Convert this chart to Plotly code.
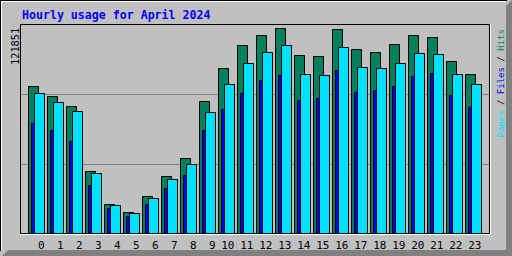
import plotly.graph_objects as go

# ---- data ----
hours = list(range(24))
hour_labels = [str(h) for h in hours]
hits = [87330, 81380, 75420, 36730, 17085, 12320, 22030, 33750, 44470, 78400,
        98050, 111740, 117870, 121851, 105960, 105190, 121500, 109360, 107570,
        112510, 117870, 116500, 102210, 94470]
files = [65300, 61320, 54590, 28400, 14700, 9940, 17090, 26610, 34350, 61140,
         73640, 83160, 90900, 93880, 79000, 80190, 96860, 83760, 84950, 87330,
         93280, 95070, 81970, 74830]
pages = [83160, 77810, 72450, 35540, 16490, 11730, 20660, 31970, 40900, 71850,
         88520, 101020, 107750, 111740, 94470, 93880, 110550, 98640, 98050,
         101020, 107150, 106380, 94470, 88520]
title = "Hourly usage for April 2024"
max_label = "121851"

# ---- style ----
W, H = 512, 256
L, R, T, B = 20, 22, 24, 22
PW, PH = W - L - R, H - T - B
BG = "#C0C0C0"
C_HITS, C_FILES, C_PAGES = "#00805C", "#0000FF", "#00E0FF"
UNIT = 19.0  # px per hour
xmin = -(29.3 - L) / UNIT
xmax = xmin + PW / UNIT
ymax_axis = max(hits) * 210 / 204.7


def px(p):
    return (p - L) / PW


def py(p):
    return (H - B - p) / PH


fig = go.Figure()
bw = 0.53
for vals, col, off, name in [(hits, C_HITS, 0.0, "Hits"),
                             (files, C_FILES, 0.142, "Files"),
                             (pages, C_PAGES, 0.316, "Pages")]:
    fig.add_trace(go.Bar(x=hours, y=vals, width=bw, offset=off, name=name,
                         marker=dict(color=col, line=dict(color="black", width=1))))

tickpos = [h + (12 / UNIT if h < 10 else 8.5 / UNIT) for h in hours]

fig.update_layout(
    width=W, height=H, margin=dict(l=L, r=R, t=T, b=B, pad=0, autoexpand=False),
    paper_bgcolor=BG, plot_bgcolor=BG, barmode="overlay", showlegend=False,
    bargap=0,
    xaxis=dict(range=[xmin, xmax], tickvals=tickpos, ticktext=hour_labels,
               showgrid=False, zeroline=False, ticks="", showline=False,
               automargin=False,
               tickfont=dict(family="DejaVu Sans Mono", size=11, color="black"),
               ticklabelstandoff=3),
    yaxis=dict(range=[0, ymax_axis], tickvals=[ymax_axis / 3, 2 * ymax_axis / 3],
               showticklabels=False, showgrid=True, gridcolor="#808080",
               automargin=False,
               gridwidth=1, zeroline=False, ticks="", showline=False),
)

shapes = []
# outer bevel
shapes.append(dict(type="path", xref="paper", yref="paper",
                   path=f"M {px(2)},{py(256)} L {px(8)},{py(250)} L {px(512)},{py(250)} L {px(512)},{py(256)} Z",
                   fillcolor="#808080", line=dict(width=0), layer="above"))
shapes.append(dict(type="path", xref="paper", yref="paper",
                   path=f"M {px(506)},{py(6)} L {px(512)},{py(0)} L {px(512)},{py(256)} L {px(506)},{py(250)} Z",
                   fillcolor="#808080", line=dict(width=0), layer="above"))
shapes.append(dict(type="line", xref="paper", yref="paper", x0=px(0), x1=px(507), y0=py(0.5), y1=py(0.5),
                   line=dict(color="black", width=1), layer="above"))
shapes.append(dict(type="line", xref="paper", yref="paper", x0=px(0.5), x1=px(0.5), y0=py(0), y1=py(251),
                   line=dict(color="black", width=1), layer="above"))
shapes.append(dict(type="line", xref="paper", yref="paper", x0=px(1), x1=px(506), y0=py(1.5), y1=py(1.5),
                   line=dict(color="white", width=1), layer="above"))
shapes.append(dict(type="line", xref="paper", yref="paper", x0=px(1.5), x1=px(1.5), y0=py(1), y1=py(250),
                   line=dict(color="white", width=1), layer="above"))
# plot frame
shapes.append(dict(type="rect", xref="paper", yref="paper", x0=px(20.5), x1=px(489.5), y0=py(233.5), y1=py(24.5),
                   line=dict(color="black", width=1), fillcolor="rgba(0,0,0,0)", layer="above"))
shapes.append(dict(type="line", xref="paper", yref="paper", x0=px(490.5), x1=px(490.5), y0=py(24), y1=py(235),
                   line=dict(color="white", width=1), layer="above"))
shapes.append(dict(type="line", xref="paper", yref="paper", x0=px(20), x1=px(491), y0=py(234.5), y1=py(234.5),
                   line=dict(color="white", width=1), layer="above"))
fig.update_layout(shapes=shapes)

annos = [
    dict(text=f"<b>{title}</b>", xref="paper", yref="paper", x=px(19.5), y=py(15.5),
         xanchor="left", yanchor="middle", showarrow=False,
         font=dict(family="DejaVu Sans Mono", size=11.6, color="#0000FF")),
    dict(text=max_label, xref="paper", yref="paper", x=px(15.5), y=py(26),
         xanchor="center", yanchor="top", textangle=-90, showarrow=False,
         font=dict(family="DejaVu Sans Mono", size=10.3, color="black")),
    dict(text=(f"<span style='color:{C_PAGES}'>Pages</span> / "
               f"<span style='color:{C_FILES}'>Files</span> / "
               f"<span style='color:{C_HITS}'>Hits</span>"),
         xref="paper", yref="paper", x=px(500.5), y=py(28),
         xanchor="center", yanchor="top", textangle=-90, showarrow=False,
         font=dict(family="DejaVu Sans Mono", size=9, color="black")),
]
fig.update_layout(annotations=annos)

fig.write_html("out.html")
